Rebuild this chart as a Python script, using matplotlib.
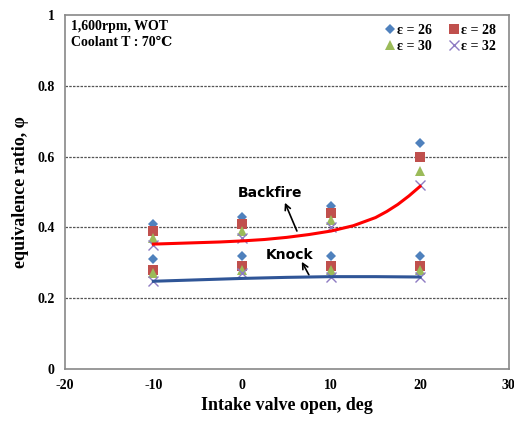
import matplotlib
matplotlib.use("Agg")
import matplotlib.pyplot as plt

plt.rcParams["axes.unicode_minus"] = False
SERIF = ["Liberation Serif", "DejaVu Serif"]

# intake valve opening (deg) where measurements were taken
ivo = [-10, 0, 10, 20]

# backfire limit (upper group) per compression ratio
bf_26 = [0.41, 0.43, 0.46, 0.64]
bf_28 = [0.39, 0.41, 0.44, 0.60]
bf_30 = [0.37, 0.39, 0.42, 0.56]
bf_32 = [0.35, 0.37, 0.40, 0.52]

# knock limit (lower group) per compression ratio
kn_26 = [0.31, 0.32, 0.32, 0.32]
kn_28 = [0.28, 0.29, 0.29, 0.29]
kn_30 = [0.27, 0.28, 0.28, 0.28]
kn_32 = [0.25, 0.27, 0.26, 0.26]

# trend lines
bf_trend_x = [-10, -7.5, -5, -2.5, 0, 2.5, 5, 7.5, 10, 12.5, 15, 16.25, 17.5, 18.75, 20]
bf_trend_y = [0.353, 0.355, 0.357, 0.359, 0.362, 0.366, 0.372, 0.380, 0.390, 0.405,
              0.428, 0.445, 0.465, 0.489, 0.516]
kn_trend_x = [-10, -5, 0, 5, 10, 15, 20]
kn_trend_y = [0.248, 0.252, 0.256, 0.259, 0.261, 0.261, 0.260]

series = [
    ("ε = 26", bf_26, kn_26, "D", "#4F81BD", 5.5),
    ("ε = 28", bf_28, kn_28, "s", "#C0504D", 6.5),
    ("ε = 30", bf_30, kn_30, "^", "#9BBB59", 7),
    ("ε = 32", bf_32, kn_32, "x", "#8E7CC3", 7),
]

fig = plt.figure(figsize=(5.14, 4.21), dpi=100)
ax = fig.add_axes([0.1255, 0.1235, 0.8645, 0.8405])

handles = []
for lab, up, lo, mk, col, ms in series:
    kw = dict(marker=mk, ms=ms, color=col, ls="none", mew=1 if mk == "x" else 0)
    h, = ax.plot(ivo, up, label=lab, zorder=3, **kw)
    ax.plot(ivo, lo, zorder=3, **kw)
    handles.append(h)

ax.plot(bf_trend_x, bf_trend_y, color="#FF0000", lw=2.2, zorder=4)
ax.plot(kn_trend_x, kn_trend_y, color="#2F5597", lw=2.2, zorder=4)

ax.set_xlim(-20, 30)
ax.set_ylim(0, 1)
ax.set_xticks([-20, -10, 0, 10, 20, 30])
ax.set_yticks([0, 0.2, 0.4, 0.6, 0.8, 1])
ax.set_yticklabels(["0", "0.2", "0.4", "0.6", "0.8", "1"])
for t in ax.get_xticklabels() + ax.get_yticklabels():
    t.set_family(SERIF)
    t.set_fontweight("bold")
    t.set_fontsize(10)
ax.tick_params(length=0, pad=7)

for y in [0.2, 0.4, 0.6, 0.8]:
    ax.axhline(y, color="#555555", lw=0.9, ls=(0, (2, 1)), zorder=1)
for s in ax.spines.values():
    s.set_color("#888888")
    s.set_linewidth(1.2)

ax.set_xlabel("Intake valve open, deg", family=SERIF, fontweight="bold", fontsize=13, labelpad=4)
ax.set_ylabel("equivalence ratio, φ", family=SERIF, fontweight="bold", fontsize=13, labelpad=6)

ax.text(0.015, 0.985, "1,600rpm, WOT\nCoolant T : 70℃", transform=ax.transAxes,
        family=SERIF, fontweight="bold", fontsize=10, va="top", ha="left", linespacing=1.25)

# legend fills column-wise: order so rows read 26/28 then 30/32
order = [0, 2, 1, 3]
ax.legend([handles[i] for i in order], [series[i][0] for i in order],
          loc="upper right", ncol=2, frameon=False, bbox_to_anchor=(1.0, 1.01),
          handlelength=0.8, handletextpad=0.1, columnspacing=1.2, labelspacing=0.2,
          prop={"family": SERIF, "weight": "bold", "size": 10})

arrow = dict(arrowstyle="->", color="black", lw=1.2, shrinkA=0, shrinkB=0)
ax.text(3.15, 0.498, "Backfire", ha="center", va="center", fontsize=10, fontweight="bold")
ax.annotate("", xy=(4.8, 0.47), xytext=(6.15, 0.39), arrowprops=arrow)
ax.text(5.3, 0.322, "Knock", ha="center", va="center", fontsize=10, fontweight="bold")
ax.annotate("", xy=(6.7, 0.303), xytext=(7.5, 0.266), arrowprops=arrow)

fig.savefig("out.png", dpi=100, facecolor="white")
